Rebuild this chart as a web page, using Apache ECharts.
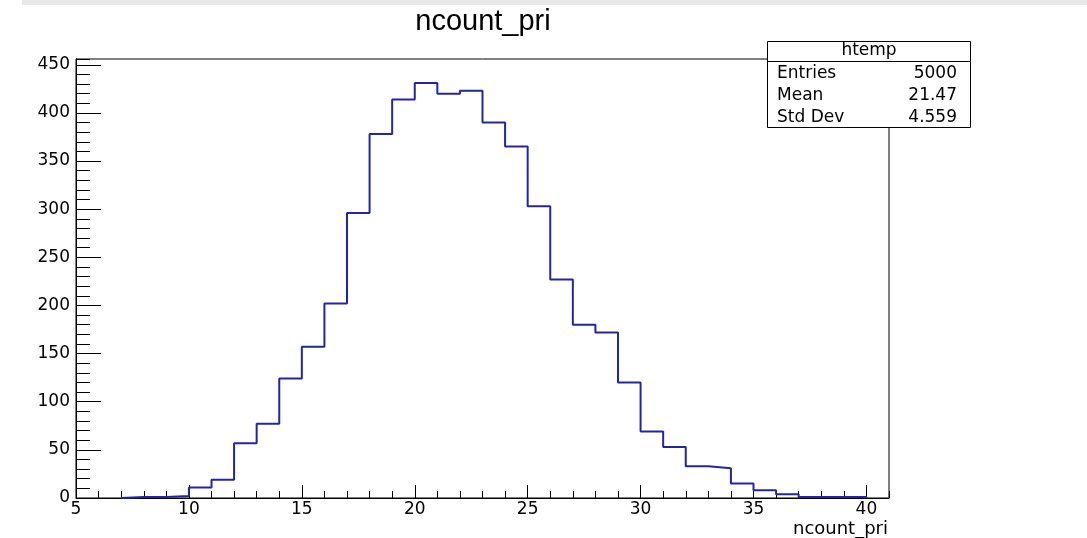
<!DOCTYPE html>
<html>
<head>
<meta charset="utf-8">
<script src="https://cdn.jsdelivr.net/npm/echarts@6/dist/echarts.min.js"></script>
<style>
html,body{margin:0;padding:0;background:#fff;}
#c{width:1087px;height:538px;}
</style>
</head>
<body>
<div id="c"></div>
<script>
// ---- data ----
const title = 'ncount_pri';
const xTitle = 'ncount_pri';
const histName = 'htemp';
const binStart = 7;      // lower edge of first bin
const binWidth = 1;
const counts = [1, 1, 2, 11, 19, 57, 77, 124, 157, 202, 296, 378, 414, 431, 420, 423, 390,
                365, 303, 227, 180, 172, 120, 69, 53, 33, 31, 15, 8, 4, 1, 1, 1];
const statLabels = ['Entries', 'Mean', 'Std Dev'];
const statValues = ['5000', '21.47', '4.559'];
const xMin = 5, xMax = 41, xMajor = 5, xMinor = 1;
const yMin = 0, yMax = 456, yMajor = 50, yMinor = 10;

// ---- build step outline from bins ----
const stepData = [[binStart, 0]];
counts.forEach((v, i) => { stepData.push([binStart + i * binWidth, v]); });
const lastEdge = binStart + counts.length * binWidth;
stepData.push([lastEdge, counts[counts.length - 1]]);
stepData.push([lastEdge, 0]);

const chart = echarts.init(document.getElementById('c'), null, {renderer: 'canvas'});
const labelFont = 'DejaVu Sans';
const gridL = 76, gridT = 59, gridR = 889, gridB = 498;

const statGraphics = [];
const boxX = 767, boxY = 41, boxW = 203, boxH = 86;
statGraphics.push({type: 'rect', z: 100, shape: {x: boxX + 0.5, y: boxY + 0.5, width: boxW, height: boxH},
  style: {fill: '#fff', stroke: '#000', lineWidth: 1}});
statGraphics.push({type: 'line', z: 101, shape: {x1: boxX, y1: 61.5, x2: boxX + boxW, y2: 61.5},
  style: {stroke: '#000', lineWidth: 1}});
statGraphics.push({type: 'text', z: 101, x: 869, y: 51,
  style: {text: histName, font: '17px "DejaVu Sans"', fill: '#000', align: 'center', verticalAlign: 'middle'}});
statLabels.forEach((lab, i) => {
  const y = 74 + i * 22;
  statGraphics.push({type: 'text', z: 101, x: 777, y: y,
    style: {text: lab, font: '17px "DejaVu Sans"', fill: '#000', align: 'left', verticalAlign: 'middle'}});
  statGraphics.push({type: 'text', z: 101, x: 957, y: y,
    style: {text: statValues[i], font: '17px "DejaVu Sans"', fill: '#000', align: 'right', verticalAlign: 'middle'}});
});

const option = {
  animation: false,
  backgroundColor: '#fff',
  grid: {left: gridL, top: gridT, width: gridR - gridL, height: gridB - gridT,
    show: true, borderColor: '#000', borderWidth: 1, backgroundColor: 'transparent', containLabel: false},
  xAxis: [
    {type: 'value', min: xMin, max: xMax, interval: xMajor, position: 'bottom',
      axisLine: {show: true, lineStyle: {color: '#000', width: 1}},
      axisTick: {show: true, inside: true, length: 13, lineStyle: {color: '#000', width: 1}},
      axisLabel: {show: true, showMaxLabel: false, color: '#000', fontFamily: labelFont, fontSize: 17, margin: 3},
      splitLine: {show: false}},
    {type: 'value', min: xMin, max: xMax, interval: xMinor, position: 'bottom',
      axisLine: {show: false},
      axisTick: {show: true, inside: true, length: 7, lineStyle: {color: '#000', width: 1}},
      axisLabel: {show: false}, splitLine: {show: false}}
  ],
  yAxis: [
    {type: 'value', min: yMin, max: yMax, interval: yMajor, position: 'left',
      axisLine: {show: true, lineStyle: {color: '#000', width: 1}},
      axisTick: {show: true, inside: true, length: 25, lineStyle: {color: '#000', width: 1}},
      axisLabel: {show: true, showMaxLabel: false, color: '#000', fontFamily: labelFont, fontSize: 17, margin: 6},
      splitLine: {show: false}},
    {type: 'value', min: yMin, max: yMax, interval: yMinor, position: 'left',
      axisLine: {show: false},
      axisTick: {show: true, inside: true, length: 14, lineStyle: {color: '#000', width: 1}},
      axisLabel: {show: false}, splitLine: {show: false}}
  ],
  series: [{
    type: 'line', xAxisIndex: 0, yAxisIndex: 0, step: 'end', data: stepData,
    showSymbol: false, symbol: 'none', z: 5,
    lineStyle: {color: '#2424a8', width: 2}
  }],
  graphic: [
    {type: 'rect', z: 100, shape: {x: 22, y: 0, width: 1065, height: 5}, style: {fill: '#e8e8e8'}},
    {type: 'text', z: 100, x: 483, y: 22,
      style: {text: title, font: '29px "Liberation Sans"', fill: '#000', align: 'center', verticalAlign: 'middle'}},
    {type: 'text', z: 100, x: 888, y: 529,
      style: {text: xTitle, font: '18px "DejaVu Sans"', fill: '#000', align: 'right', verticalAlign: 'middle'}}
  ].concat(statGraphics)
};
chart.setOption(option);
</script>
</body>
</html>
